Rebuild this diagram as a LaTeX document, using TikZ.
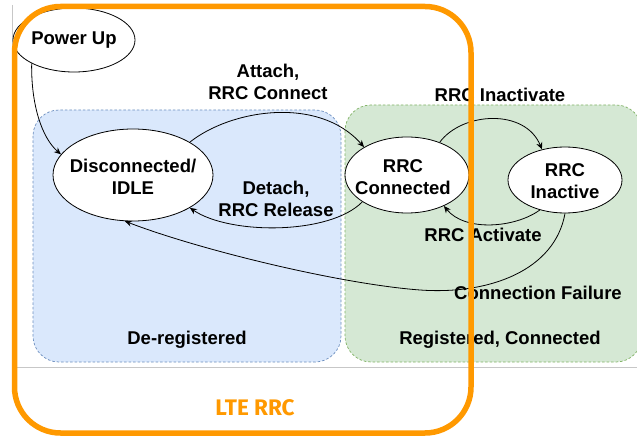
\documentclass[tikz,border=0pt]{standalone}
\usepackage{fontspec}
\setmainfont{Liberation Sans}
\newfontfamily\firafont{Fira Sans}
\usetikzlibrary{arrows.meta,shapes.geometric}
\definecolor{lteorange}{HTML}{FF9900}
\definecolor{bluefill}{HTML}{DAE8FC}
\definecolor{bluedraw}{HTML}{6C8EBF}
\definecolor{greenfill}{HTML}{D5E8D4}
\definecolor{greendraw}{HTML}{82B366}
\begin{document}
\begin{tikzpicture}[x=1pt,y=-1pt,
  statebox/.style={ellipse, draw=black, fill=white, line width=0.8pt, inner sep=0pt},
  lbl/.style={align=center, inner sep=0pt, font=\bfseries\fontsize{18.5}{22}\selectfont},
  trans/.style={draw=black, line width=0.8pt, -{Stealth[length=7pt,width=6pt]}},
  region/.style={rounded corners=26pt, line width=0.7pt, dash pattern=on 2.5pt off 2pt},
  frameline/.style={draw=black!22, line width=0.8pt}]
\useasboundingbox (0,0) rectangle (637,438);
\fill[white] (0,0) rectangle (637,438);
% screenshot frame lines
\coordinate (ftop) at (12,5);
\coordinate (fcorner) at (12,367);
\coordinate (fright) at (637,367);
\draw[frameline] (ftop) -- (fcorner) -- (fright);
% regions
\draw[region, fill=bluefill, draw=bluedraw] (33,110) rectangle (341,362);
\draw[region, fill=greenfill, draw=greendraw] (345,105) rectangle (642,362);
\node[lbl] (dereg) at (187,340) {De-registered};
\node[lbl] (regcon) at (500,340) {Registered, Connected};
% states
\node[statebox, minimum width=122pt, minimum height=64pt] (pwr) at (74,40) {};
\node[lbl] (pwrt) at (pwr) {Power Up};
\node[statebox, minimum width=160pt, minimum height=92pt] (dis) at (133,175) {};
\node[lbl] (dist) at (133,177) {Disconnected/\\IDLE};
\node[statebox, minimum width=124pt, minimum height=76pt] (con) at (407,175) {};
\node[lbl] (cont) at (403,177) {RRC\\Connected};
\node[statebox, minimum width=114pt, minimum height=66pt] (ina) at (565,180) {};
\node[lbl] (inat) at (565,181) {RRC\\Inactive};
% transitions
\draw[trans] (pwr.209) .. controls (31,105) and (42,138) .. (dis.164);
\draw[trans] (dis.30) .. controls (230,110) and (318,95) .. (con.147);
\draw[trans] (con.211) .. controls (330,235) and (230,235) .. (dis.-30);
\draw[trans] (con.45) .. controls (462,112) and (525,108) .. (ina.127);
\draw[trans] (ina.230) .. controls (515,228) and (465,232) .. (con.-40);
\draw[trans] (ina.270) .. controls (555,270) and (490,295) .. (420,290)
                       .. controls (340,284) and (200,250) .. (dis.260);
% transition labels
\node[lbl] (attach) at (268,82) {Attach,\\RRC Connect};
\node[lbl] (detach) at (276,199) {Detach,\\RRC Release};
\node[lbl] (inact) at (500,95) {RRC Inactivate};
\node[lbl] (act) at (483,235) {RRC Activate};
\node[lbl] (fail) at (538,293) {Connection Failure};
% LTE RRC frame
\draw[lteorange, line width=5.5pt, rounded corners=46pt] (14.5,6.5) rectangle (471,433);
\node[text=lteorange, font=\firafont\bfseries\fontsize{22.5}{26}\selectfont] (lte) at (255,408) {LTE RRC};
\end{tikzpicture}
\end{document}
